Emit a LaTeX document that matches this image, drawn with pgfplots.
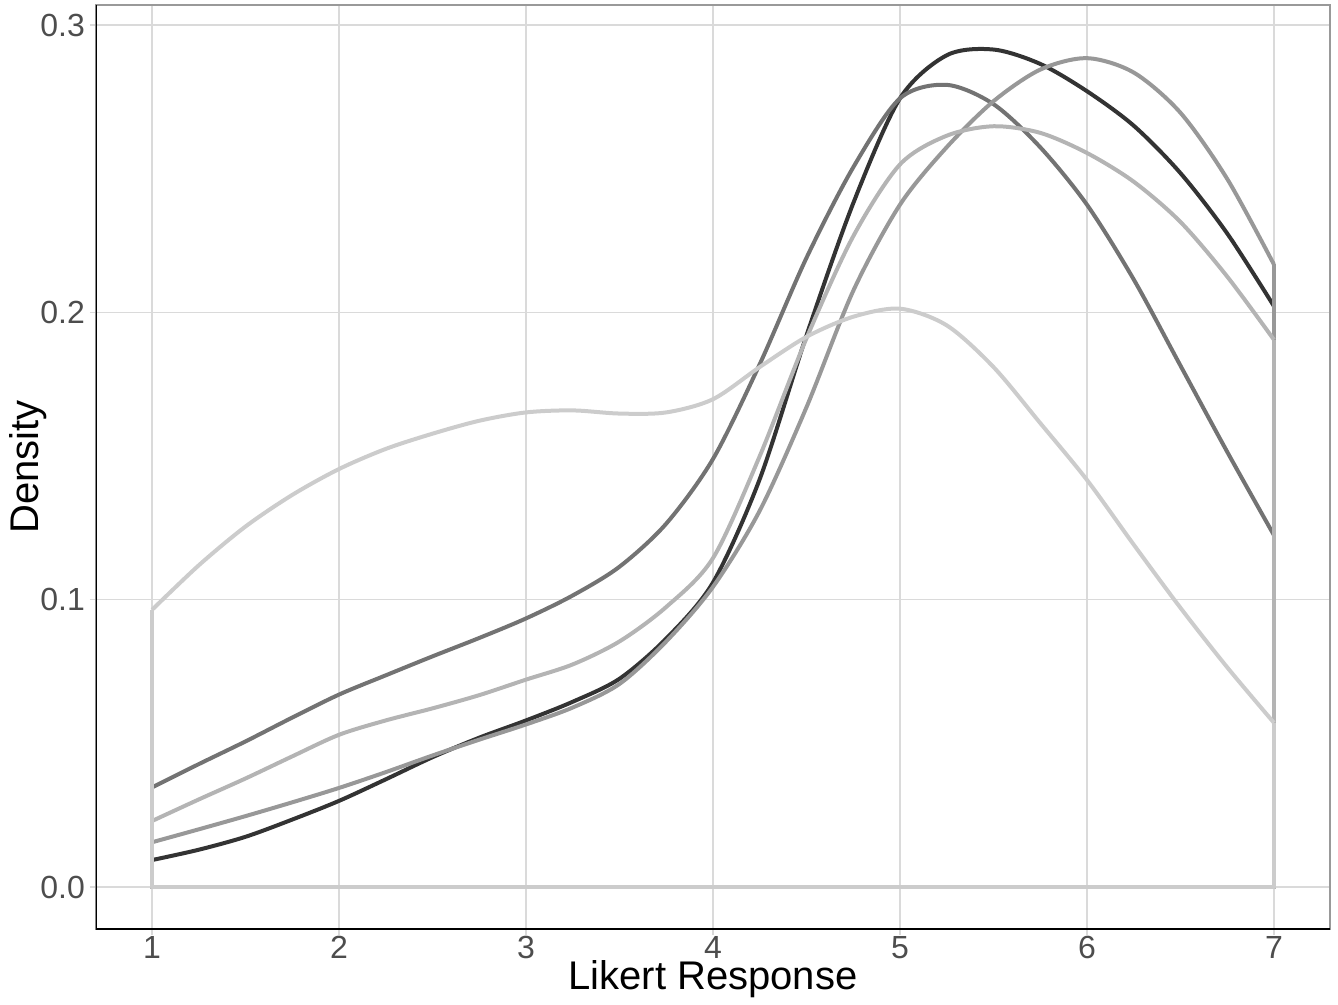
\documentclass[border=0pt]{standalone}
\usepackage{fontspec}
\setmainfont{Liberation Sans}
\usepackage{pgfplots}
\pgfplotsset{compat=1.18}
\definecolor{cA}{HTML}{333333}
\definecolor{cB}{HTML}{737373}
\definecolor{cC}{HTML}{989898}
\definecolor{cD}{HTML}{B4B4B4}
\definecolor{cE}{HTML}{CCCCCC}
\definecolor{gridc}{HTML}{DADADA}
\definecolor{labc}{HTML}{4D4D4D}
\begin{document}
\begin{tikzpicture}
\begin{axis}[
    name=ax,
    scale only axis,
    width=617pt, height=462pt,
    xmin=0.7, xmax=7.3,
    ymin=-0.0146, ymax=0.307,
    xtick={1,2,3,4,5,6,7},
    ytick={0,0.1,0.2,0.3},
    yticklabel style={/pgf/number format/fixed,
        /pgf/number format/fixed zerofill,
        /pgf/number format/precision=1},
    /pgf/number format/assume math mode=true,
    grid=major,
    major grid style={color=gridc, line width=0.7pt},
    tick pos=left,
    tick align=outside,
    major tick length=3pt,
    tick style={color=gridc, line width=0.7pt},
    axis line style={draw=gridc!70!black, line width=0.7pt},
    ticklabel style={font=\fontsize{16}{19}\selectfont, text=labc},
    xticklabel style={yshift=3pt},
    yticklabel style={xshift=1pt},
    label style={font=\fontsize{20}{24}\selectfont},
    xlabel={Likert Response},
    ylabel={Density},
    xlabel style={yshift=6pt},
    ylabel style={yshift=-10pt},
    every axis plot/.append style={line width=2pt, line join=round},
]
% A
\addplot[cA, smooth] coordinates {
(1,0.0094)(1.25,0.013)(1.5,0.0175)(1.75,0.0235)(2,0.030)(2.25,0.0375)(2.5,0.0452)(2.75,0.052)(3,0.058)(3.25,0.0645)(3.5,0.0725)(3.75,0.0865)(4,0.106)(4.25,0.142)(4.5,0.192)(4.75,0.238)(5,0.2745)(5.25,0.2895)(5.5,0.2915)(5.75,0.2865)(6,0.277)(6.25,0.265)(6.5,0.2485)(6.75,0.2275)(7,0.2022)
};
\addplot[cA, sharp plot] coordinates {(1,0.0094)(1,0)(7,0)(7,0.2022)};
% B
\addplot[cB, smooth] coordinates {
(1,0.0347)(1.25,0.0428)(1.5,0.0507)(1.75,0.059)(2,0.067)(2.25,0.0737)(2.5,0.0803)(2.75,0.0867)(3,0.0935)(3.25,0.1015)(3.5,0.1115)(3.75,0.1265)(4,0.149)(4.25,0.182)(4.5,0.219)(4.75,0.2505)(5,0.2745)(5.25,0.2792)(5.5,0.2725)(5.75,0.2575)(6,0.2375)(6.25,0.2115)(6.5,0.1815)(6.75,0.1515)(7,0.1225)
};
\addplot[cB, sharp plot] coordinates {(1,0.0347)(1,0)(7,0)(7,0.1225)};
% C
\addplot[cC, smooth] coordinates {
(1,0.0156)(1.25,0.0201)(1.5,0.0247)(1.75,0.0295)(2,0.0345)(2.25,0.040)(2.5,0.0458)(2.75,0.0513)(3,0.0566)(3.25,0.0625)(3.5,0.0707)(3.75,0.0855)(4,0.1045)(4.25,0.131)(4.5,0.167)(4.75,0.2075)(5,0.2375)(5.25,0.2575)(5.5,0.2735)(5.75,0.2845)(6,0.2885)(6.25,0.2835)(6.5,0.2695)(6.75,0.2465)(7,0.2167)
};
\addplot[cC, sharp plot] coordinates {(1,0.0156)(1,0)(7,0)(7,0.2167)};
% D
\addplot[cD, smooth] coordinates {
(1,0.023)(1.25,0.0305)(1.5,0.0378)(1.75,0.0455)(2,0.053)(2.25,0.058)(2.5,0.0622)(2.75,0.0668)(3,0.0722)(3.25,0.0775)(3.5,0.0855)(3.75,0.0975)(4,0.1145)(4.25,0.150)(4.5,0.191)(4.75,0.2265)(5,0.2515)(5.25,0.2615)(5.5,0.2648)(5.75,0.2625)(6,0.2555)(6.25,0.2455)(6.5,0.2315)(6.75,0.2125)(7,0.1905)
};
\addplot[cD, sharp plot] coordinates {(1,0.023)(1,0)(7,0)(7,0.1905)};
% E
\addplot[cE, smooth] coordinates {
(1,0.0965)(1.25,0.112)(1.5,0.1255)(1.75,0.1365)(2,0.1455)(2.25,0.1525)(2.5,0.1578)(2.75,0.1623)(3,0.1652)(3.25,0.1659)(3.5,0.1648)(3.75,0.1652)(4,0.1698)(4.25,0.181)(4.5,0.1915)(4.75,0.1985)(5,0.2013)(5.25,0.1955)(5.5,0.181)(5.75,0.1615)(6,0.1417)(6.25,0.1192)(6.5,0.0972)(6.75,0.0765)(7,0.0572)
};
\addplot[cE, sharp plot] coordinates {(1,0.0965)(1,0)(7,0)(7,0.0572)};
% black axis lines on left and bottom
\draw[black, line width=0.9pt] (rel axis cs:0,1) -- (rel axis cs:0,0) -- (rel axis cs:1,0);
\end{axis}
\path (ax.south west) ++(-48pt,-36pt) (ax.north east) ++(4pt,2.5pt);
\end{tikzpicture}
\end{document}
